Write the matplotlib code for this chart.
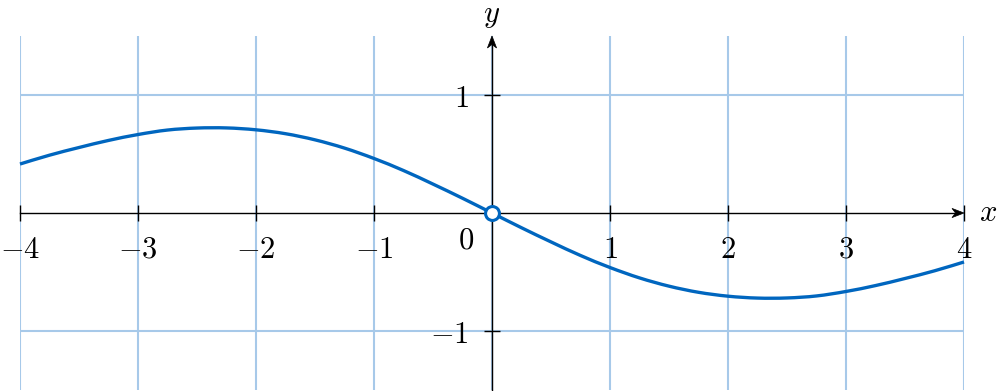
import matplotlib
matplotlib.use("Agg")
import matplotlib.pyplot as plt
from matplotlib.path import Path
from matplotlib.patches import PathPatch, Polygon
from matplotlib.transforms import Affine2D

plt.rcParams['mathtext.fontset'] = 'cm'
plt.rcParams['font.family'] = ['DejaVu Serif']

# ---- data ----
x_vals = [-4.0, -3.75, -3.5, -3.25, -3.0, -2.75, -2.5, -2.25, -2.0, -1.75, -1.5,
          -1.25, -1.0, -0.75, -0.5, -0.25, 0.0, 0.25, 0.5, 0.75, 1.0, 1.25, 1.5,
          1.75, 2.0, 2.25, 2.5, 2.75, 3.0, 3.25, 3.5, 3.75, 4.0]
y_vals = [0.415, 0.49, 0.555, 0.615, 0.665, 0.703, 0.72, 0.721, 0.705, 0.672, 0.62,
          0.55, 0.462, 0.36, 0.245, 0.125, 0.0, -0.125, -0.245, -0.36, -0.462, -0.55,
          -0.62, -0.672, -0.705, -0.721, -0.72, -0.703, -0.665, -0.615, -0.555, -0.49,
          -0.415]
x_ticks = [-4, -3, -2, -1, 1, 2, 3, 4]
x_tick_labels = [r'$-4$', r'$-3$', r'$-2$', r'$-1$', r'$1$', r'$2$', r'$3$', r'$4$']
y_ticks = [-1, 1]
y_tick_labels = [r'$-1$', r'$1$']
grid_x = [-4, -3, -2, -1, 0, 1, 2, 3, 4]
grid_y = [-1, 1]
origin_point = (0.0, 0.0)

W, H = 998, 391
fig = plt.figure(figsize=(W / 100, H / 100), dpi=100)
ax = fig.add_axes([20 / W, 1 - 390 / H, 944 / W, (390 - 36) / H])
ax.set_xlim(-4, 4)
ax.set_ylim(-1.5, 1.5)

grid_color = '#a7c9e9'
for gx in grid_x:
    ax.axvline(gx, color=grid_color, lw=1.5, zorder=0)
for gy in grid_y:
    ax.axhline(gy, color=grid_color, lw=1.5, zorder=0)

for s in ax.spines.values():
    s.set_visible(False)
ax.spines['bottom'].set_position('zero')
ax.spines['left'].set_position('zero')

# axis lines
ax.plot([-4, 3.95], [0, 0], color='black', lw=1.0, zorder=3, clip_on=False)
ax.plot([0, 0], [-1.5, 1.46], color='black', lw=1.0, zorder=3, clip_on=False)


def stealth(tip, angle):
    px, py = ax.transData.transform(tip)
    verts = [(0, 0), (-12, 4.6), (-8.5, 0), (-12, -4.6)]
    tr = Affine2D().rotate_deg(angle).translate(px, py)
    poly = Polygon(verts, closed=True, facecolor='black', edgecolor='black', lw=0.5,
                   transform=tr, zorder=3, clip_on=False)
    fig.add_artist(poly)


stealth((4, 0), 0)
stealth((0, 1.5), 90)

ax.set_xticks(x_ticks)
ax.set_xticklabels(x_tick_labels)
ax.set_yticks(y_ticks)
ax.set_yticklabels(y_tick_labels)
ax.tick_params(axis='both', direction='inout', length=12, width=1.0, colors='black',
               labelsize=22)
ax.tick_params(axis='x', pad=9)
ax.tick_params(axis='y', pad=11)

# smooth curve through the read points (Catmull-Rom rendered as cubic Bezier)
pts = list(zip(x_vals, y_vals))
verts = [pts[0]]
codes = [Path.MOVETO]
n = len(pts)
for i in range(n - 1):
    p0 = pts[i - 1] if i > 0 else pts[i]
    p1 = pts[i]
    p2 = pts[i + 1]
    p3 = pts[i + 2] if i + 2 < n else pts[i + 1]
    c1 = (p1[0] + (p2[0] - p0[0]) / 6, p1[1] + (p2[1] - p0[1]) / 6)
    c2 = (p2[0] - (p3[0] - p1[0]) / 6, p2[1] - (p3[1] - p1[1]) / 6)
    verts += [c1, c2, p2]
    codes += [Path.CURVE4] * 3
curve = PathPatch(Path(verts, codes), facecolor='none', edgecolor='#0066bf', lw=2.4,
                  zorder=4, clip_on=False, capstyle='butt')
ax.add_patch(curve)

ax.plot([origin_point[0]], [origin_point[1]], 'o', ms=10, mfc='white', mec='#0066bf',
        mew=2.2, zorder=5, clip_on=False)

ax.text(-0.22, -0.23, r'$0$', fontsize=22, ha='center', va='center')
ax.text(4.2, 0.0, r'$x$', fontsize=22, ha='center', va='center', clip_on=False)
ax.text(0.0, 1.685, r'$y$', fontsize=22, ha='center', va='center', clip_on=False)

fig.savefig('out.png', dpi=100)
